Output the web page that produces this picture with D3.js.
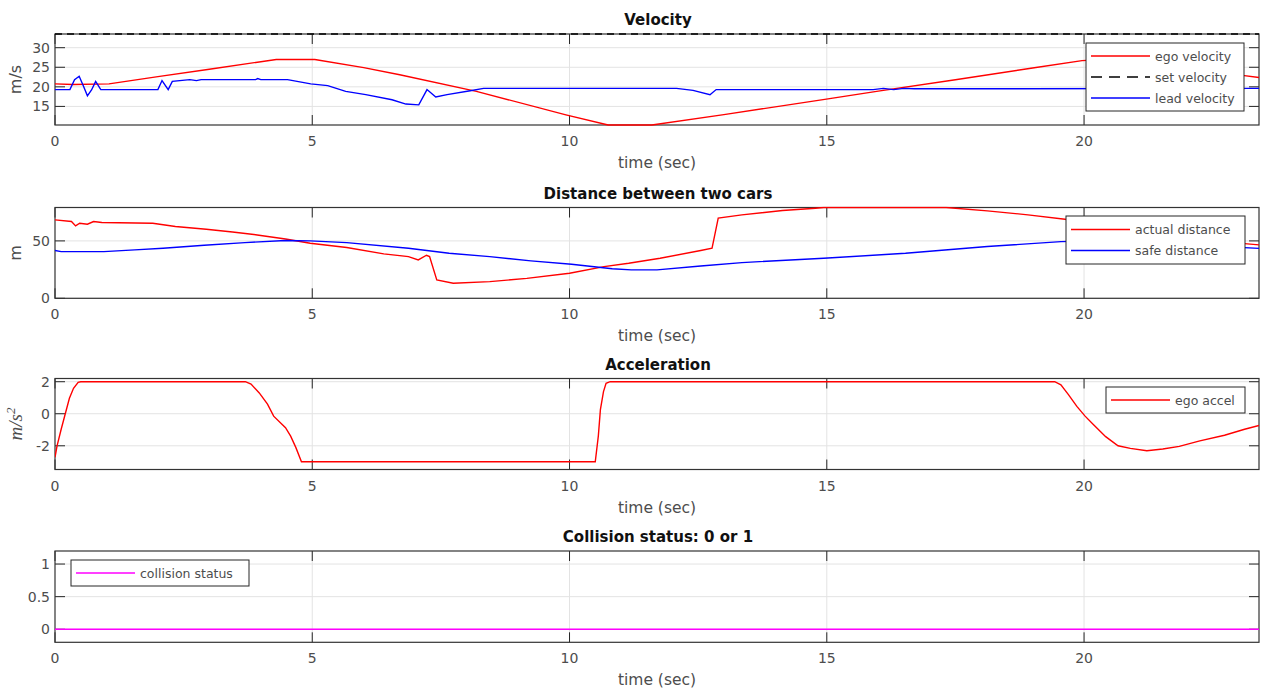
<!DOCTYPE html>
<html>
<head>
<meta charset="utf-8">
<script src="https://cdn.jsdelivr.net/npm/d3@7"></script>
<style>
  body { margin: 0; background: #fff; }
  svg { display: block; }
</style>
</head>
<body>
<svg id="fig" width="1261" height="693"></svg>
<script>
// ---- time axis ----
const timeTicks = [0, 5, 10, 15, 20];
const timeEnd = 23.4;

// ---- velocity (m/s) ----
const egoVelT = [0, 0.35, 1.05, 2.0, 3.0, 4.3, 5.05, 6.0, 6.7, 8.19, 9.93, 10.75, 11.6, 13.0, 14.96, 16.0, 17.5, 19.0, 19.96, 20.4, 21.0, 21.8, 22.5, 23.04, 23.4];
const egoVel  = [20.75, 20.6, 20.75, 22.6, 24.5, 27.0, 27.0, 24.9, 23.1, 18.85, 12.85, 10.25, 10.25, 12.9, 16.8, 18.9, 21.8, 24.8, 26.7, 27.0, 26.3, 24.8, 23.7, 23.0, 22.4];
const setVelT = [0, 23.4];
const setVel  = [33.5, 33.5];
const leadVelT = [0, 0.29, 0.38, 0.47, 0.55, 0.63, 0.71, 0.79, 0.89, 2.0, 2.08, 2.2, 2.28, 2.62, 2.75, 2.84, 3.9, 3.94, 4.0, 4.52, 4.97, 5.3, 5.65, 6.04, 6.55, 6.82, 7.07, 7.23, 7.4, 7.62, 8.07, 8.33, 12.08, 12.4, 12.73, 12.85, 15.9, 16.1, 16.3, 16.5, 16.7, 23.4];
const leadVel  = [19.3, 19.3, 21.8, 22.7, 20.3, 17.7, 19.2, 21.4, 19.3, 19.3, 21.6, 19.3, 21.4, 21.85, 21.6, 21.85, 21.85, 22.1, 21.85, 21.85, 20.75, 20.3, 18.85, 18.0, 16.7, 15.6, 15.4, 19.3, 17.4, 18.0, 19.0, 19.6, 19.6, 19.1, 18.0, 19.3, 19.3, 19.6, 19.3, 19.6, 19.5, 19.6];
const velTicks = [15, 20, 25, 30];

// ---- distance between cars (m) ----
const actualDistT = [0, 0.32, 0.4, 0.48, 0.63, 0.75, 0.91, 1.9, 2.34, 2.94, 3.45, 3.93, 4.48, 4.96, 5.67, 6.39, 6.87, 7.06, 7.22, 7.28, 7.42, 7.74, 8.45, 9.17, 10.0, 10.67, 11.15, 11.76, 12.55, 12.77, 12.89, 13.35, 14.14, 14.78, 14.94, 17.32, 18.12, 18.91, 19.63, 20.4, 21.5, 22.5, 23.4];
const actualDist  = [68.3, 66.9, 63.1, 65.4, 64.5, 66.9, 66.0, 65.4, 62.5, 60.2, 57.8, 55.2, 51.7, 48.0, 44.2, 38.7, 36.3, 33.4, 37.5, 36.3, 16.0, 13.1, 14.5, 17.4, 21.8, 27.6, 30.5, 34.9, 41.6, 43.6, 69.8, 72.7, 76.5, 78.5, 79.1, 79.1, 76.2, 72.7, 68.9, 63.0, 55.3, 50.0, 46.5];
const safeDistT = [0, 0.12, 0.95, 1.55, 2.1, 2.9, 3.69, 4.48, 4.96, 5.67, 6.87, 7.66, 8.45, 9.25, 10.04, 10.83, 11.2, 11.7, 12.55, 13.35, 14.94, 16.53, 18.12, 19.55, 20.4, 21.5, 22.5, 23.4];
const safeDist  = [41.6, 40.7, 40.7, 42.2, 43.6, 46.2, 48.5, 50.3, 50.0, 48.5, 43.6, 39.2, 36.3, 32.6, 29.7, 25.8, 24.8, 24.8, 28.2, 31.1, 34.9, 39.2, 45.1, 49.4, 50.3, 48.0, 45.5, 43.5];
const distTicks = [0, 50];

// ---- acceleration (m/s^2) ----
const accelT = [0, 0.04, 0.12, 0.2, 0.28, 0.36, 0.45, 0.5, 3.7, 3.81, 3.97, 4.13, 4.25, 4.48, 4.58, 4.68, 4.79, 10.5, 10.56, 10.6, 10.66, 10.71, 10.79, 19.43, 19.55, 19.7, 19.86, 20.02, 20.18, 20.42, 20.66, 20.9, 21.22, 21.53, 21.85, 22.25, 22.73, 23.12, 23.4];
const accel  = [-2.72, -2.0, -0.97, 0, 0.97, 1.59, 1.96, 2.0, 2.0, 1.85, 1.3, 0.6, -0.15, -0.87, -1.4, -2.1, -3.0, -3.0, -1.38, 0.26, 1.38, 1.9, 2.0, 2.0, 1.8, 1.18, 0.46, -0.15, -0.67, -1.43, -2.0, -2.16, -2.31, -2.2, -2.04, -1.69, -1.34, -0.97, -0.73];
const accelTicks = [-2, 0, 2];

// ---- collision status ----
const collisionT = [0, 23.4];
const collision  = [0, 0];
const collisionTicks = [0, 0.5, 1];

// ---- figure layout ----
const FONT = "'DejaVu Sans', 'Liberation Sans', sans-serif";
const plotLeft = 55, plotRight = 1259;
const svg = d3.select("#fig");

const zip = (ts, vs) => ts.map((t, i) => [t, vs[i]]);

const panels = [
  {
    title: "Velocity", top: 34, bottom: 125, yDomain: [10.25, 33.5], yTicks: velTicks,
    ylabel: "m/s",
    series: [
      { data: zip(egoVelT, egoVel), color: "#ff0000", name: "ego velocity" },
      { data: zip(setVelT, setVel), color: "#000000", dash: "7,5", name: "set velocity" },
      { data: zip(leadVelT, leadVel), color: "#0000ff", name: "lead velocity" }
    ],
    legend: { x: 1086, y: 43, w: 158, h: 68 }
  },
  {
    title: "Distance between two cars", top: 207.5, bottom: 298.3, yDomain: [0, 79.1], yTicks: distTicks,
    ylabel: "m",
    series: [
      { data: zip(actualDistT, actualDist), color: "#ff0000", name: "actual distance" },
      { data: zip(safeDistT, safeDist), color: "#0000ff", name: "safe distance" }
    ],
    legend: { x: 1066, y: 216, w: 179, h: 48 }
  },
  {
    title: "Acceleration", top: 378.5, bottom: 469.5, yDomain: [-3.48, 2.2], yTicks: accelTicks,
    ylabel: "accel",
    series: [
      { data: zip(accelT, accel), color: "#ff0000", name: "ego accel" }
    ],
    legend: { x: 1106, y: 387, w: 139, h: 26 }
  },
  {
    title: "Collision status: 0 or 1", top: 551, bottom: 642.3, yDomain: [-0.2, 1.2], yTicks: collisionTicks,
    ylabel: null,
    series: [
      { data: zip(collisionT, collision), color: "#ff00ff", name: "collision status" }
    ],
    legend: { x: 71, y: 560, w: 178, h: 26 }
  }
];

const x = d3.scaleLinear().domain([0, timeEnd]).range([plotLeft, plotRight]);

panels.forEach(p => {
  const y = d3.scaleLinear().domain(p.yDomain).range([p.bottom, p.top]);
  const g = svg.append("g");

  // grid
  g.append("g").selectAll("line").data(timeTicks.filter(t => t > 0)).join("line")
    .attr("x1", d => x(d)).attr("x2", d => x(d))
    .attr("y1", p.top).attr("y2", p.bottom)
    .attr("stroke", "#e3e3e3").attr("stroke-width", 1);
  g.append("g").selectAll("line").data(p.yTicks).join("line")
    .attr("x1", plotLeft).attr("x2", plotRight)
    .attr("y1", d => y(d)).attr("y2", d => y(d))
    .attr("stroke", "#e3e3e3").attr("stroke-width", 1);

  const clipId = "clip" + Math.round(p.top);
  svg.append("clipPath").attr("id", clipId).append("rect")
    .attr("x", plotLeft).attr("y", p.top - 1).attr("width", plotRight - plotLeft).attr("height", p.bottom - p.top + 2);
  const line = d3.line().x(d => x(d[0])).y(d => y(d[1]));

  // tick marks on all four sides
  const tl = 10;
  const ticks = g.append("g").attr("stroke", "#262626").attr("stroke-width", 1);
  timeTicks.forEach(t => {
    ticks.append("line").attr("x1", x(t)).attr("x2", x(t)).attr("y1", p.bottom).attr("y2", p.bottom - tl);
    ticks.append("line").attr("x1", x(t)).attr("x2", x(t)).attr("y1", p.top).attr("y2", p.top + tl);
  });
  p.yTicks.forEach(v => {
    ticks.append("line").attr("x1", plotLeft).attr("x2", plotLeft + tl).attr("y1", y(v)).attr("y2", y(v));
    ticks.append("line").attr("x1", plotRight).attr("x2", plotRight - tl).attr("y1", y(v)).attr("y2", y(v));
  });

  // axes box
  g.append("rect").attr("x", plotLeft).attr("y", p.top)
    .attr("width", plotRight - plotLeft).attr("height", p.bottom - p.top)
    .attr("fill", "none").attr("stroke", "#333").attr("stroke-width", 1.2);

  // data lines
  const lines = g.append("g").attr("clip-path", `url(#${clipId})`);
  p.series.forEach(s => {
    lines.append("path").datum(s.data)
      .attr("d", line)
      .attr("fill", "none")
      .attr("stroke", s.color)
      .attr("stroke-width", 1.4)
      .attr("stroke-dasharray", s.dash || null);
  });

  // tick labels
  g.append("g").selectAll("text").data(timeTicks).join("text")
    .attr("x", d => x(d)).attr("y", p.bottom + 21)
    .attr("text-anchor", "middle")
    .attr("font-family", FONT).attr("font-size", 14).attr("fill", "#4d4d4d")
    .text(d => d);
  g.append("g").selectAll("text").data(p.yTicks).join("text")
    .attr("x", plotLeft - 5).attr("y", d => y(d) + 5)
    .attr("text-anchor", "end")
    .attr("font-family", FONT).attr("font-size", 14).attr("fill", "#4d4d4d")
    .text(d => d);

  // x label
  g.append("text").attr("x", (plotLeft + plotRight) / 2).attr("y", p.bottom + 43)
    .attr("text-anchor", "middle")
    .attr("font-family", FONT).attr("font-size", 15.5).attr("fill", "#4d4d4d")
    .text("time (sec)");

  // title
  g.append("text").attr("x", (plotLeft + plotRight) / 2 + 1).attr("y", p.top - 9)
    .attr("text-anchor", "middle")
    .attr("font-family", FONT).attr("font-size", 15).attr("font-weight", "bold").attr("fill", "#111")
    .text(p.title);

  // y label
  const yc = (p.top + p.bottom) / 2;
  if (p.ylabel === "accel") {
    const t = g.append("text").attr("transform", `translate(22,${yc}) rotate(-90)`)
      .attr("text-anchor", "middle")
      .attr("font-family", "'Liberation Serif', 'DejaVu Serif', serif").attr("font-style", "italic")
      .attr("font-size", 19).attr("fill", "#4d4d4d");
    t.append("tspan").text("m/s");
    t.append("tspan").attr("dy", -7).attr("font-size", 13).text("2");
  } else if (p.ylabel) {
    g.append("text").attr("transform", `translate(21,${yc}) rotate(-90)`)
      .attr("text-anchor", "middle")
      .attr("font-family", FONT).attr("font-size", 16).attr("fill", "#4d4d4d")
      .text(p.ylabel);
  }

  // legend
  const L = p.legend;
  const lg = g.append("g");
  lg.append("rect").attr("x", L.x).attr("y", L.y).attr("width", L.w).attr("height", L.h)
    .attr("fill", "#fff").attr("stroke", "#262626").attr("stroke-width", 1);
  const rowH = 21;
  const n = p.series.length;
  const first = L.y + (L.h - rowH * n) / 2 + rowH / 2;
  p.series.forEach((s, i) => {
    const cy = first + i * rowH;
    lg.append("line").attr("x1", L.x + 5).attr("x2", L.x + 64).attr("y1", cy).attr("y2", cy)
      .attr("stroke", s.color).attr("stroke-width", 1.4).attr("stroke-dasharray", s.dash ? "11,7" : null);
    lg.append("text").attr("x", L.x + 69).attr("y", cy + 4.5)
      .attr("font-family", FONT).attr("font-size", 12.5).attr("fill", "#4d4d4d")
      .text(s.name);
  });
});
</script>
</body>
</html>
